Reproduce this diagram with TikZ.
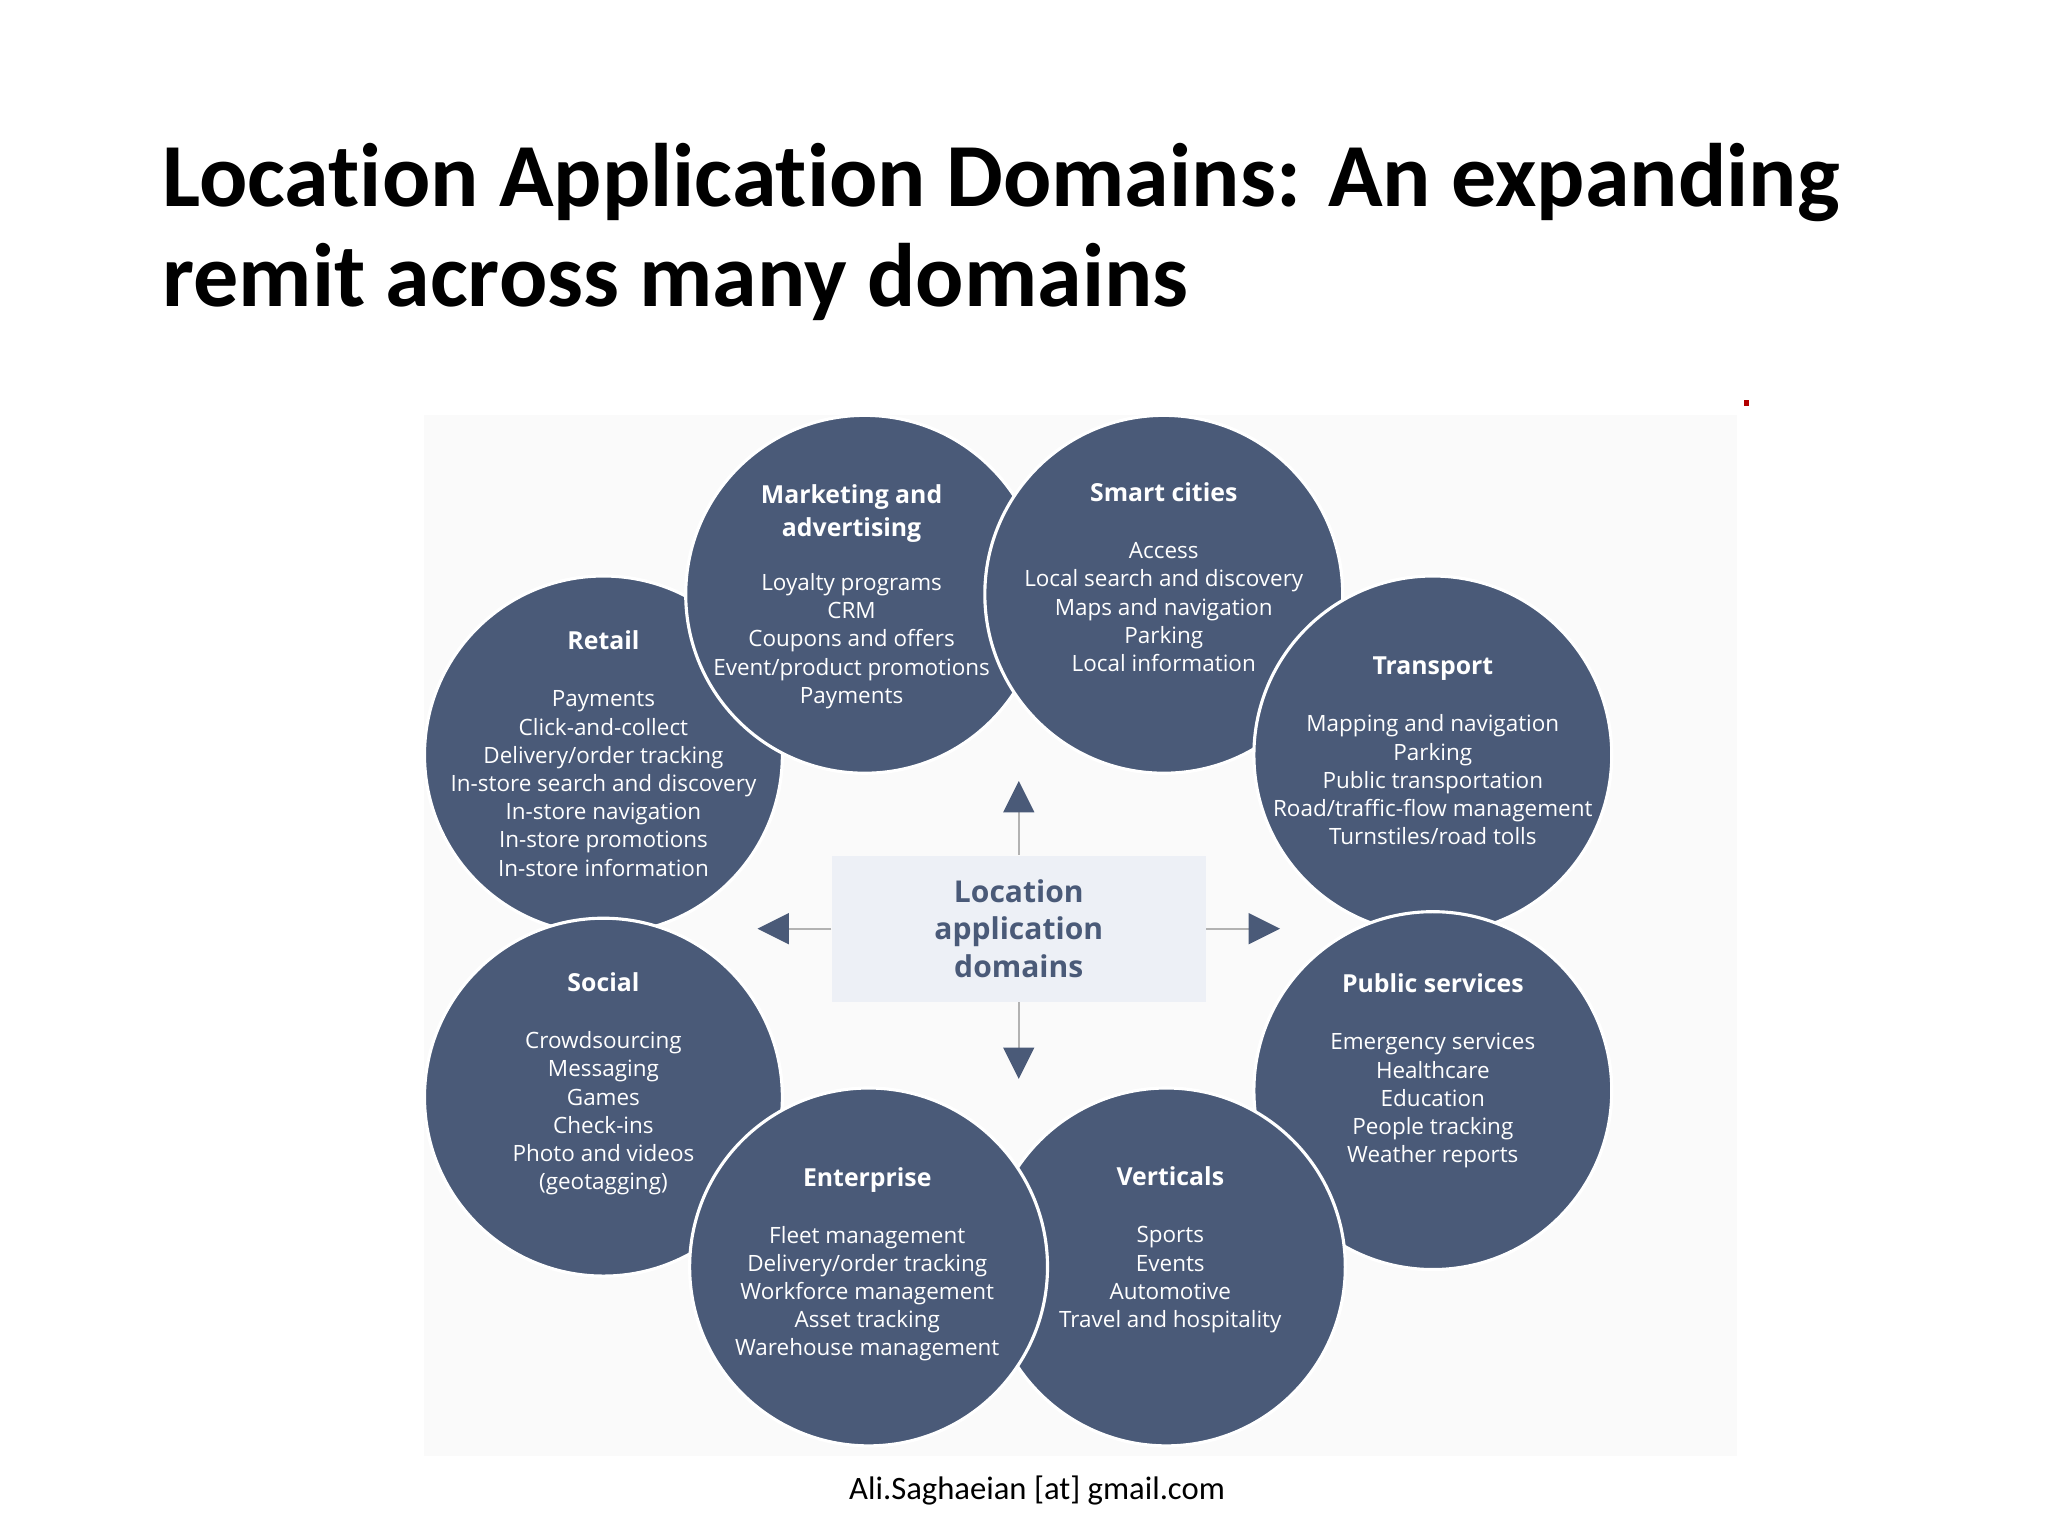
\documentclass[tikz,border=0pt]{standalone}
\usepackage{fontspec}
\setmainfont{Open Sans}
\newfontfamily\titlefont[Ligatures=NoCommon]{Carlito}
\definecolor{circ}{HTML}{4A5A78}
\definecolor{boxc}{HTML}{EDF0F6}
\definecolor{arr}{HTML}{4A5A78}
\definecolor{bgc}{HTML}{FAFAFA}
\newcommand{\ttl}{\bfseries\fontsize{9.5}{12}\selectfont}
\newcommand{\bdy}{\mdseries\fontsize{8.6}{10.8}\selectfont}
\begin{document}
\begin{tikzpicture}[x=0.5pt,y=-0.5pt,
  dom/.style={circle,fill=circ,draw=white,line width=1.2pt,minimum size=137pt,inner sep=0pt},
  txt/.style={text=white,align=center,font=\bdy},
  tri/.style={fill=arr,draw=none},
  conn/.style={draw=gray!60,line width=0.8pt}]
\useasboundingbox (0,0) rectangle (1568,1176);
\fill[white] (0,0) rectangle (1568,1176);
\fill[bgc] (325,318) rectangle (1330,1115);
\node[anchor=base west,inner sep=0pt,font=\titlefont\bfseries\fontsize{34.5}{38}\selectfont] (t1) at (124,158) {Location Application Domains: An expanding};
\node[anchor=base west,inner sep=0pt,font=\titlefont\bfseries\fontsize{34.5}{38}\selectfont] (t2) at (124,235) {remit across many domains};
\fill[red!70!black] (1335,306) rectangle (1339,311);
% circles
\node[dom] (retail) at (462,578) {};
\node[dom] (mkt) at (662,455) {};
\node[dom] (smart) at (891,455) {};
\node[dom] (trans) at (1097,578) {};
\node[dom] (social) at (462,840) {};
\node[dom] (pub) at (1097,835) {};
\node[dom] (vert) at (893,970) {};
\node[dom] (ent) at (665,970) {};
% texts
\node[txt] (tmkt) at (652,457) {\ttl Marketing and\\[1.5pt]\ttl advertising\\[10pt]Loyalty programs\\CRM\\Coupons and offers\\Event/product promotions\\Payments};
\node[txt] (tsmart) at (891,442) {\ttl Smart cities\\[11pt]Access\\Local search and discovery\\Maps and navigation\\Parking\\Local information};
\node[txt] (tretail) at (462,577) {\ttl Retail\\[11pt]Payments\\Click-and-collect\\Delivery/order tracking\\In-store search and discovery\\In-store navigation\\In-store promotions\\In-store information};
\node[txt] (ttrans) at (1097,575) {\ttl Transport\\[11pt]Mapping and navigation\\Parking\\Public transportation\\Road/traffic-flow management\\Turnstiles/road tolls};
\node[txt] (tsocial) at (462,830) {\ttl Social\\[11pt]Crowdsourcing\\Messaging\\Games\\Check-ins\\Photo and videos\\(geotagging)};
\node[txt] (tpub) at (1097,820) {\ttl Public services\\[11pt]Emergency services\\Healthcare\\Education\\People tracking\\Weather reports};
\node[txt] (tent) at (664,968) {\ttl Enterprise\\[11pt]Fleet management\\Delivery/order tracking\\Workforce management\\Asset tracking\\Warehouse management};
\node[txt] (tvert) at (896,957) {\ttl Verticals\\[11pt]Sports\\Events\\Automotive\\Travel and hospitality};
% center
\node[fill=boxc,minimum width=143pt,minimum height=56pt,align=center,text=circ,font=\bfseries\fontsize{11.5}{14.5}\selectfont] (ctr) at (780,711) {Location\\application\\domains};
\coordinate (cu) at (780,622);
\coordinate (cd) at (780,802);
\coordinate (cl) at (604,711);
\coordinate (cr) at (956,711);
\draw[conn] (ctr.north) -- (cu);
\draw[conn] (ctr.south) -- (cd);
\draw[conn] (ctr.west) -- (cl);
\draw[conn] (ctr.east) -- (cr);
\fill[tri] (768,622) -- (792,622) -- (780,598) -- cycle;
\fill[tri] (768,802) -- (792,802) -- (780,826) -- cycle;
\fill[tri] (604,699) -- (604,723) -- (580,711) -- cycle;
\fill[tri] (956,699) -- (956,723) -- (980,711) -- cycle;
\node[font=\titlefont\fontsize{12.5}{15}\selectfont,anchor=base] (foot) at (794,1148) {Ali.Saghaeian [at] gmail.com};
\end{tikzpicture}
\end{document}
